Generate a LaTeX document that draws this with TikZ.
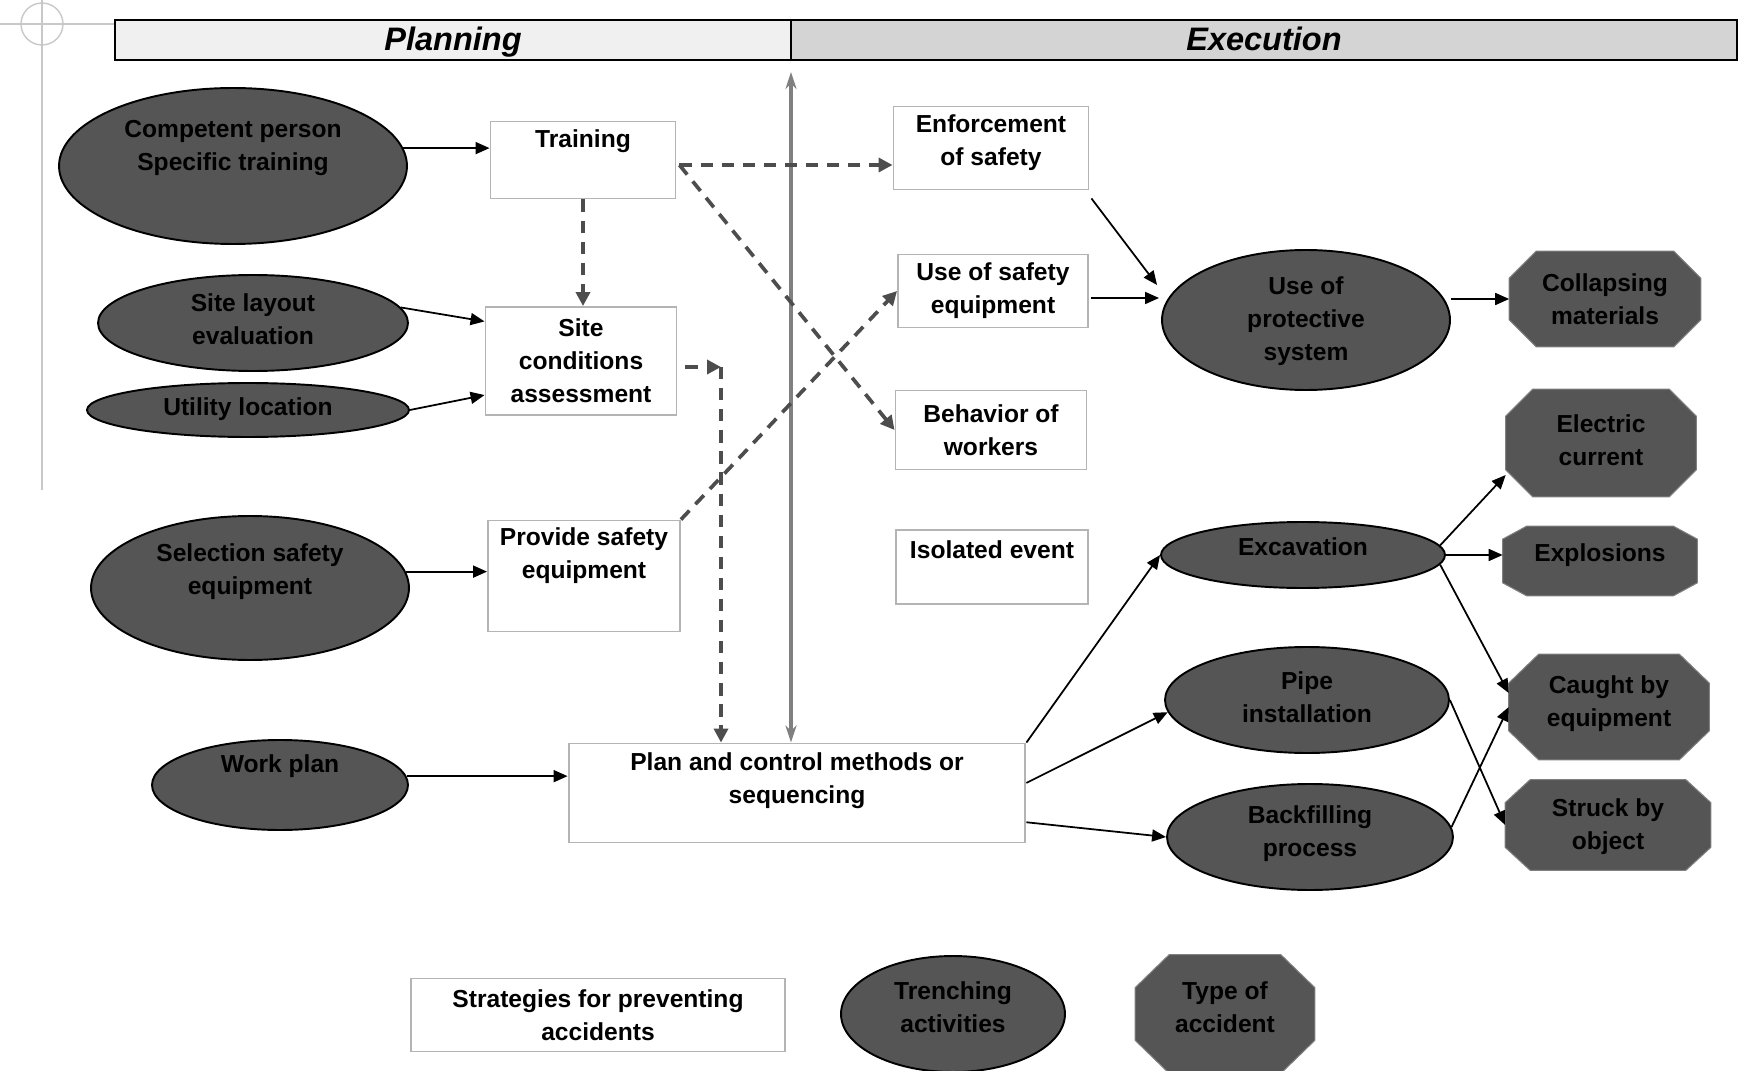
\documentclass[tikz,border=0pt]{standalone}
\usepackage{fontspec}
\setmainfont{Liberation Sans}
\usetikzlibrary{positioning,arrows.meta,shapes.geometric,calc}
\definecolor{darkfill}{HTML}{555555}
\definecolor{boxline}{HTML}{B4B4B4}
\definecolor{dashgray}{HTML}{4D4D4D}
\definecolor{axisgray}{HTML}{808080}
\definecolor{markgray}{HTML}{C8C8C8}
\definecolor{plangray}{HTML}{F0F0F0}
\definecolor{execgray}{HTML}{D4D4D4}
\tikzset{
  txt/.style     = {font=\fontsize{14}{18.8}\selectfont\bfseries, align=center, inner sep=0pt},
  box/.style     = {rectangle, draw=boxline, line width=1.1pt, fill=white, inner sep=0pt, txt},
  act/.style     = {ellipse, draw=black, line width=1.1pt, fill=darkfill, inner sep=0pt},
  accbox/.style  = {rectangle, inner sep=0pt},
  accline/.style = {draw=axisgray, line width=0.6pt, fill=darkfill},
  hdr/.style     = {rectangle, draw=black, line width=1.2pt, minimum height=0.76cm,
                    text height=0.5cm, text depth=0.06cm,
                    font=\fontsize{18.5}{20}\selectfont\bfseries\itshape},
  edge/.style    = {-{Triangle[length=2.8mm,width=2.4mm]}, line width=1pt},
  dedge/.style   = {-{Triangle[length=2.8mm,width=2.8mm]}, draw=dashgray, line width=2.1pt,
                    dash pattern=on 7pt off 5pt},
  axis/.style    = {{Stealth[length=3.4mm,width=2.2mm]}-{Stealth[length=3.4mm,width=2.2mm]},
                    draw=axisgray, line width=2pt},
}
% octagon behind a type-of-accident node: node, x cut, y cut
\newcommand\octpath[3]{%
  \path[accline] ($(#1.north west)+(#2,0)$) -- ($(#1.north east)+(-#2,0)$)
    -- ($(#1.north east)+(0,#3)$) -- ($(#1.south east)+(0,-#3)$)
    -- ($(#1.south east)+(-#2,0)$) -- ($(#1.south west)+(#2,0)$)
    -- ($(#1.south west)+(0,-#3)$) -- ($(#1.north west)+(0,#3)$) -- cycle;}

\begin{document}
\begin{tikzpicture}[x=0.02cm, y=-0.02cm]
  \useasboundingbox (0,0) rectangle (1739,1071);

  % crop mark
  \draw[markgray, line width=0.8pt] (42,24) circle[radius=0.42cm];
  \draw[markgray, line width=0.8pt] (0,24) -- (115,24);
  \draw[markgray, line width=0.8pt] (42,0) -- (42,490);

  % header
  \node[hdr, fill=plangray, minimum width=13.52cm] (plnHdr) at (453,40) {Planning};
  \node[hdr, fill=execgray, minimum width=18.92cm] (exeHdr) at (1264,40) {Execution};

  % trenching activities
  \node[act, minimum width=6.96cm, minimum height=3.12cm] (cmp) at (233,166) {};
  \node[txt] (cmpT) at (233,148) {Competent person\\Specific training};
  \node[act, minimum width=6.2cm, minimum height=1.92cm] (lay) at (253,323) {};
  \node[txt] (layT) at (253,319) {Site layout\\evaluation};
  \node[act, minimum width=6.44cm, minimum height=1.08cm] (utl) at (248,410) {};
  \node[txt] (utlT) at (248,409) {Utility location};
  \node[act, minimum width=6.36cm, minimum height=2.88cm] (sel) at (250,588) {};
  \node[txt] (selT) at (250,572) {Selection safety\\equipment};
  \node[act, minimum width=5.12cm, minimum height=1.8cm] (wrk) at (280,785) {};
  \node[txt] (wrkT) at (280,766) {Work plan};
  \node[act, minimum width=5.76cm, minimum height=2.8cm] (prt) at (1306,320) {};
  \node[txt] (prtT) at (1306,321) {Use of\\protective\\system};
  \node[act, minimum width=5.68cm, minimum height=1.32cm] (exc) at (1303,555) {};
  \node[txt] (excT) at (1303,547) {Excavation};
  \node[act, minimum width=5.68cm, minimum height=2.12cm] (pip) at (1307,700) {};
  \node[txt] (pipT) at (1307,697) {Pipe\\installation};
  \node[act, minimum width=5.72cm, minimum height=2.12cm] (bkf) at (1310,837) {};
  \node[txt] (bkfT) at (1310,834) {Backfilling\\process};

  % strategies
  \node[box, minimum width=3.7cm, minimum height=1.54cm] (trn) at (583,160) {};
  \node[txt] (trnT) at (583,141) {Training};
  \node[box, minimum width=3.82cm, minimum height=2.16cm] (sca) at (581,361) {Site\\conditions\\assessment};
  \node[box, minimum width=3.84cm, minimum height=2.22cm] (pse) at (584,576) {};
  \node[txt] (pseT) at (584,556) {Provide safety\\equipment};
  \node[box, minimum width=9.14cm, minimum height=1.98cm] (pcm) at (797,793) {};
  \node[txt] (pcmT) at (797,781) {Plan and control methods or\\sequencing};
  \node[box, minimum width=3.9cm, minimum height=1.66cm] (enf) at (991,148) {};
  \node[txt] (enfT) at (991,143) {Enforcement\\of safety};
  \node[box, minimum width=3.8cm, minimum height=1.46cm] (use) at (993,291) {Use of safety\\equipment};
  \node[box, minimum width=3.82cm, minimum height=1.58cm] (beh) at (991,430) {Behavior of\\workers};
  \node[box, minimum width=3.84cm, minimum height=1.48cm] (iso) at (992,567) {};
  \node[txt] (isoT) at (992,550) {Isolated event};

  % type of accident
  \node[accbox, minimum width=3.82cm, minimum height=1.9cm] (col) at (1605,299) {};
  \octpath{col}{27}{27}
  \node[txt] (colT) at (col) {Collapsing\\materials};
  \node[accbox, minimum width=3.8cm, minimum height=2.14cm] (ele) at (1601,443) {};
  \octpath{ele}{27}{27}
  \node[txt] (eleT) at (1601,440) {Electric\\current};
  \node[accbox, minimum width=3.88cm, minimum height=1.38cm] (exp) at (1600,561) {};
  \octpath{exp}{24}{13}
  \node[txt] (expT) at (1600,555) {Explosions};
  \node[accbox, minimum width=4.0cm, minimum height=2.1cm] (cau) at (1609,707) {};
  \octpath{cau}{30}{29}
  \node[txt] (cauT) at (1609,704) {Caught by\\equipment};
  \node[accbox, minimum width=4.1cm, minimum height=1.8cm] (stk) at (1608,825) {};
  \octpath{stk}{25}{23}
  \node[txt] (stkT) at (1608,827) {Struck by\\object};

  % legend
  \node[box, minimum width=7.48cm, minimum height=1.46cm] (legStr) at (598,1015) {Strategies for preventing\\accidents};
  \node[act, minimum width=4.48cm, minimum height=2.32cm] (legAct) at (953,1014) {};
  \node[txt] (legActT) at (953,1007) {Trenching\\activities};
  \node[accbox, minimum width=3.58cm, minimum height=2.36cm] (legAcc) at (1225,1014) {};
  \octpath{legAcc}{34}{33}
  \node[txt] (legAccT) at (1225,1007) {Type of\\accident};

  % planning / execution divide
  \coordinate (axTop) at (791,72);
  \draw[axis] (axTop) -- (axTop |- pcm.north);

  % solid links
  \draw[edge] (cmp.6) -- (cmp.6 -| trn.west);
  \draw[edge] (lay.6) -- ($(sca.north west)!0.14!(sca.south west)$);
  \draw[edge] (utl.east) -- ($(sca.north west)!0.81!(sca.south west)$);
  \draw[edge] (sel.6) -- (sel.6 -| pse.west);
  \draw[edge] (wrk.4) -- (wrk.4 -| pcm.west);
  \draw[edge] ($(enf.south east)+(2,8)$) -- ($(prt.west)+(-4,-35)$);
  \draw[edge] ($(use.east)+(2,7)$) -- ($(prt.west)+(-2,-22)$);
  \draw[edge] (col.west -| prt.east) -- (col.west);
  \draw[edge] (pcm.north east) -- (exc.west);
  \draw[edge] ($(pcm.north east)!0.4!(pcm.south east)$) -- (pip.185);
  \draw[edge] ($(pcm.north east)!0.79!(pcm.south east)$) -- (bkf.west);
  \draw[edge] (exc.4) -- ($(ele.west)+(0,32)$);
  \draw[edge] (exc.east) -- (exc.east -| exp.west);
  \draw[edge] (exc.-4) -- ($(cau.west)+(0,-14)$);
  \draw[edge] (pip.east) -- (stk.west);
  \draw[edge] (bkf.4) -- (cau.west);

  % dashed links
  \coordinate (trnOut) at ($(trn.east)+(3,5)$);
  \coordinate (scaTurn) at (721,367);
  \draw[dedge] (trnOut) -- (trnOut -| enf.west);
  \draw[dedge] (trnOut) -- (beh.west);
  \draw[dedge] (trn.south) -- (trn.south |- sca.north);
  \draw[dedge] ($(sca.east)+(8,6)$) -- (scaTurn);
  \draw[dedge] (scaTurn) -- (scaTurn |- pcm.north);
  \draw[dedge] (pse.north east) -- (use.west);

\end{tikzpicture}
\end{document}
